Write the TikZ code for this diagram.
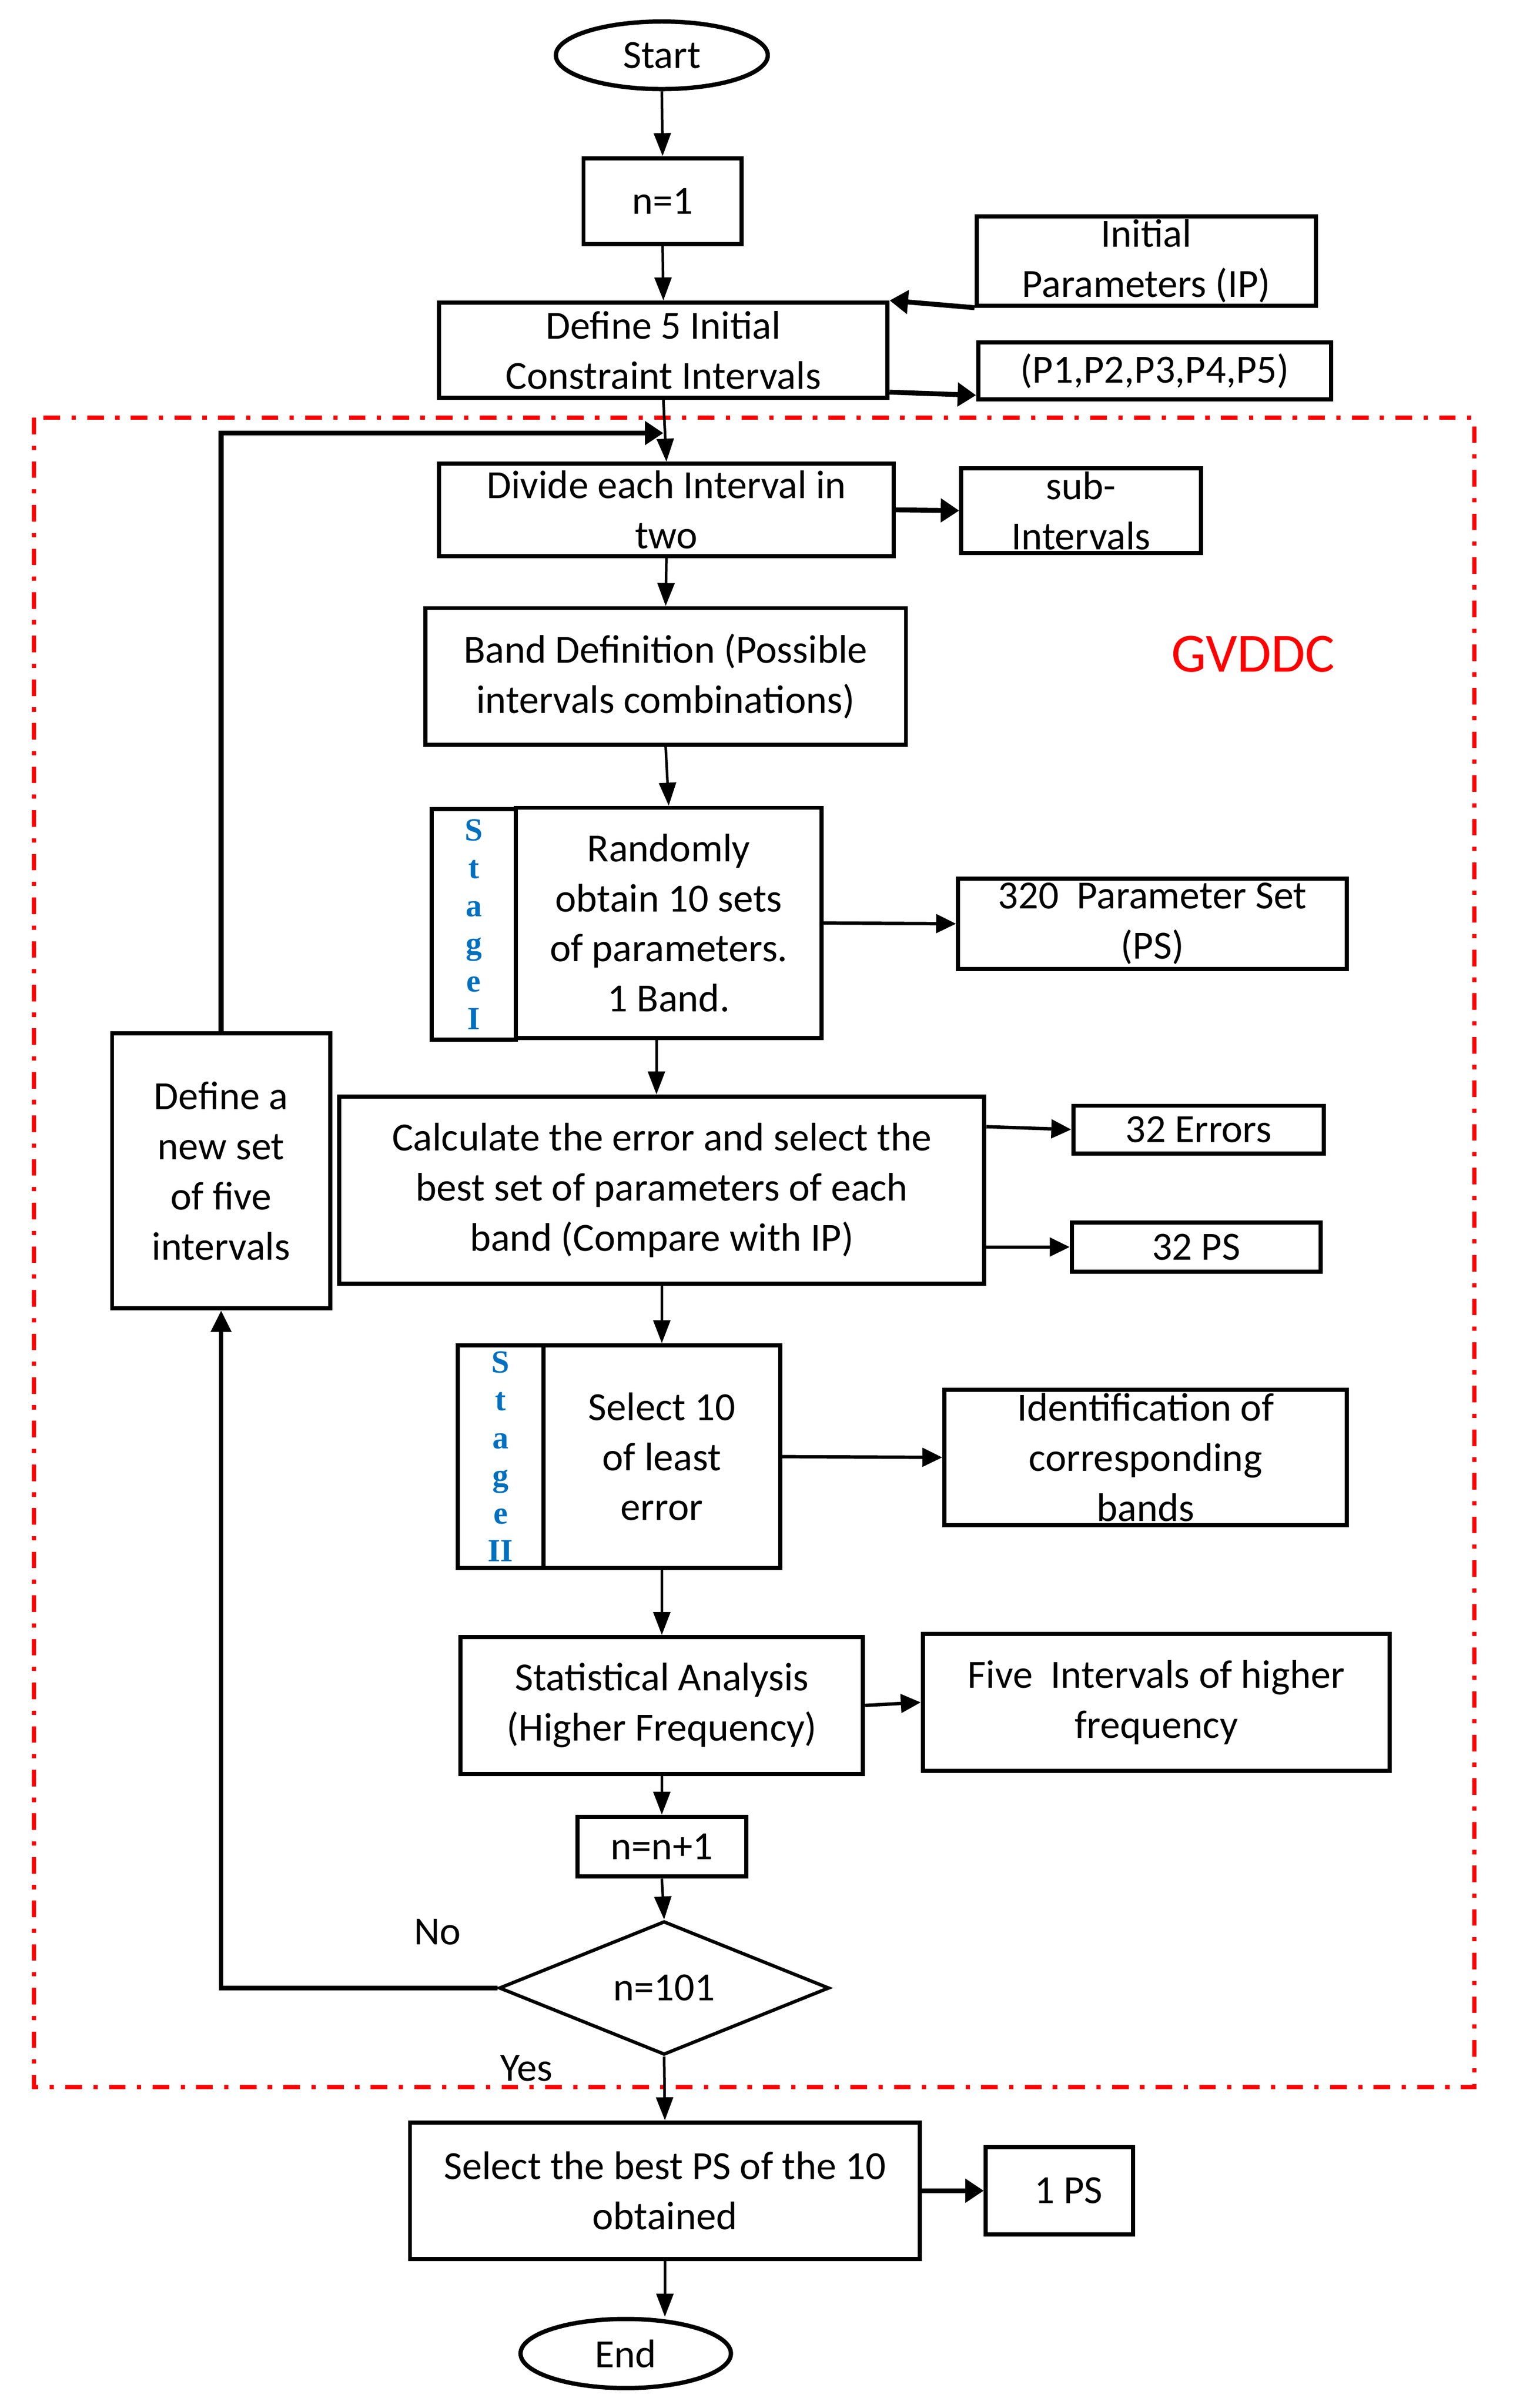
\documentclass[tikz,border=0pt]{standalone}
\usepackage{fontspec}
\setmainfont{Carlito}
\newfontfamily\stagefont{Liberation Serif}
\usetikzlibrary{arrows.meta,shapes.geometric}
\definecolor{stageblue}{HTML}{0070C0}
\definecolor{gvred}{HTML}{FF0000}
\begin{document}
\begin{tikzpicture}[x=0.5pt,y=-0.5pt,
  txt/.style={font=\fontsize{13}{16.3}\selectfont},
  box/.style={draw,line width=1.35pt,rectangle,inner sep=0pt,align=center,txt},
  term/.style={draw,line width=1.4pt,ellipse,inner sep=0pt,txt},
  decision/.style={draw,line width=1.1pt,diamond,inner sep=0pt,txt},
  stagebox/.style={draw,line width=1.35pt,rectangle,inner sep=0pt,align=center,text=stageblue,
     font=\stagefont\bfseries\fontsize{10.5}{12.3}\selectfont},
  thinarr/.style={line width=0.85pt,-{Triangle[length=7.5pt,width=5.5pt]}},
  medarr/.style={line width=1.1pt,-{Triangle[length=6.5pt,width=6pt]}},
  thickarr/.style={line width=1.6pt,-{Triangle[length=6pt,width=7.5pt]}},
  lbl/.style={inner sep=0pt,txt}
]
\useasboundingbox (0,0) rectangle (985,1568);

% red dash-dot frame
\draw[gvred,line width=1.35pt,dash pattern=on 5.4pt off 3.7pt on 1.4pt off 3.7pt] (22,272) rectangle (960,1359);
\node[lbl,text=gvred,font=\fontsize{18}{22}\selectfont] (gv) at (816,426) {GVDDC};

% nodes
\node[term,minimum width=69pt,minimum height=22pt] (start) at (431,36) {Start};
\node[box,minimum width=51.5pt,minimum height=28pt] (n1) at (431.5,131) {n=1};
\node[box,minimum width=110.5pt,minimum height=29pt] (ip) at (746.5,170) {Initial\\Parameters (IP)};
\node[box,minimum width=146pt,minimum height=31pt] (define) at (432,228) {Define 5 Initial\\Constraint Intervals};
\node[box,minimum width=115pt,minimum height=18.5pt] (pset) at (752,241.5) {(P1,P2,P3,P4,P5)};
\node[box,minimum width=148pt,minimum height=30pt] (divide) at (434,332) {Divide each Interval in\\two};
\node[box,minimum width=78pt,minimum height=27.5pt] (sub) at (704,332.5) {sub-\\Intervals};
\node[box,minimum width=156.5pt,minimum height=44.5pt] (band) at (433.5,440.5) {Band Definition (Possible\\intervals combinations)};
\node[stagebox,minimum width=27.5pt,minimum height=75pt] (stage1) at (308.5,602) {S\\t\\a\\g\\e\\I};
\node[box,minimum width=99.5pt,minimum height=75pt] (random) at (435.5,601) {Randomly\\obtain 10 sets\\of parameters.\\1 Band.};
\node[box,minimum width=126.5pt,minimum height=29.5pt] (ps320) at (750.5,601.5) {320\ \ Parameter Set\\(PS)};
\node[box,minimum width=210pt,minimum height=61pt] (calc) at (431,775) {Calculate the error and select the\\best set of parameters of each\\band (Compare with IP)};
\node[box,minimum width=81.5pt,minimum height=15.5pt] (err32) at (780.5,735.5) {32 Errors};
\node[box,minimum width=81pt,minimum height=16pt] (ps32) at (779,812) {32 PS};
\node[stagebox,minimum width=28pt,minimum height=72.5pt] (stage2) at (326,948.5) {S\\t\\a\\g\\e\\II};
\node[box,minimum width=77pt,minimum height=72.5pt] (sel10) at (431,948.5) {Select 10\\of least\\error};
\node[box,minimum width=131pt,minimum height=44pt] (ident) at (746,949) {Identification of\\corresponding\\bands};
\node[box,minimum width=131pt,minimum height=44.5pt] (stat) at (431,1110.5) {Statistical Analysis\\(Higher Frequency)};
\node[box,minimum width=152pt,minimum height=44.5pt] (five) at (753,1108.5) {Five\ \ Intervals of higher\\frequency};
\node[box,minimum width=55pt,minimum height=19.5pt] (inc) at (431,1202.5) {n=n+1};
\node[decision,minimum width=107.5pt,minimum height=43.5pt] (dec) at (432.5,1294.5) {n=101};
\node[box,minimum width=71pt,minimum height=89.5pt] (newset) at (144,762.5) {Define a\\new set\\of five\\intervals};
\node[box,minimum width=166pt,minimum height=44.5pt] (best) at (433,1426.5) {Select the best PS of the 10\\obtained};
\node[box,minimum width=48pt,minimum height=28.5pt] (ps1) at (690,1426.5) {\ \ 1 PS};
\node[term,minimum width=68.5pt,minimum height=22.5pt] (end) at (407.5,1532.5) {End};

\node[lbl] (no) at (285,1258) {No};
\node[lbl] (yes) at (343,1347) {Yes};

\coordinate (join) at (432,282);

% connectors
\draw[thinarr] (start.south) -- (n1.north);
\draw[thinarr] (n1.south) -- (define.north);
\draw[thickarr] (ip.south west) -- (define.north east);
\draw[thickarr] ([yshift=2.5pt]define.south east) -- ([yshift=2pt]pset.south west);
\draw[thinarr] (define.south) -- (divide.north);
\draw[thickarr] (newset.north) |- (join);
\draw[thickarr] (divide.east) -- (sub.west);
\draw[thinarr] (divide.south) -- (band.north);
\draw[thinarr] (band.south) -- (random.north);
\draw[medarr] (random.east) -- (ps320.west);
\draw[thinarr] ([xshift=-4pt]random.south) -- ([xshift=-4pt]random.south |- calc.north);
\draw[medarr] ([yshift=-10.5pt]calc.north east) -- (err32.west);
\draw[medarr] (calc.east |- ps32.west) -- (ps32.west);
\draw[thinarr] (calc.south) -- (sel10.north);
\draw[medarr] (sel10.east) -- (ident.west);
\draw[thinarr] (sel10.south) -- (stat.north);
\draw[medarr] (stat.east) -- (five.west);
\draw[thinarr] (stat.south) -- (inc.north);
\draw[thinarr] (inc.south) -- (dec.north);
\draw[line width=1.4pt,-{Triangle[length=7pt,width=6.5pt]}] (dec.west) -| (newset.south);
\draw[thinarr] (dec.south) -- (best.north);
\draw[thickarr] (best.east) -- (ps1.west);
\draw[thinarr] (best.south) -- (best.south |- end.north);
\end{tikzpicture}
\end{document}
